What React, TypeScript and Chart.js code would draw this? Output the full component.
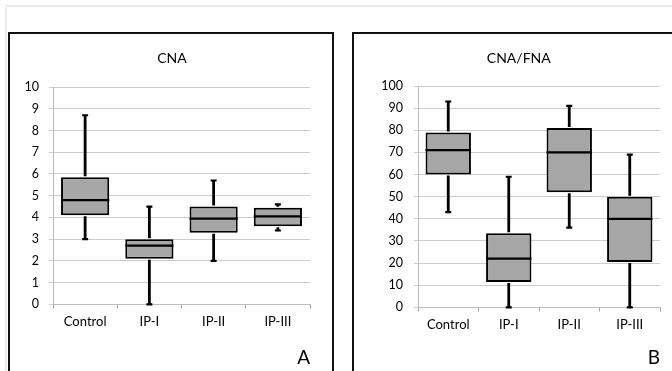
import React, { useEffect, useRef } from "react";
import { Chart, registerables } from "chart.js";

Chart.register(...registerables);

const categories = ["Control", "IP-I", "IP-II", "IP-III"];

// Panel A: CNA
const cnaMin = [3.0, 0.0, 2.0, 3.4];
const cnaQ1 = [4.1, 2.1, 3.3, 3.6];
const cnaMedian = [4.8, 2.7, 3.95, 4.05];
const cnaQ3 = [5.85, 3.0, 4.5, 4.45];
const cnaMax = [8.7, 4.5, 5.7, 4.6];

// Panel B: CNA/FNA
const ratioMin = [43, 0, 36, 0];
const ratioQ1 = [60, 11.5, 52, 20.5];
const ratioMedian = [71, 22, 70, 40];
const ratioQ3 = [79, 33.5, 81, 50];
const ratioMax = [93, 59, 91, 69];

const FONT = "Lato, 'Open Sans', sans-serif";

const boxPlugin = {
  id: "boxWhiskers",
  afterDatasetsDraw(chart: any, _args: any, opts: any) {
    const { ctx } = chart;
    const y = chart.scales.y;
    const meta = chart.getDatasetMeta(0);
    ctx.save();
    ctx.strokeStyle = "#000";
    meta.data.forEach((bar: any, i: number) => {
      const cx = bar.x;
      const half = bar.width / 2;
      const pMin = y.getPixelForValue(opts.min[i]);
      const pMax = y.getPixelForValue(opts.max[i]);
      const pQ1 = y.getPixelForValue(opts.q1[i]);
      const pQ3 = y.getPixelForValue(opts.q3[i]);
      const pMed = y.getPixelForValue(opts.median[i]);
      ctx.lineWidth = 2.8;
      ctx.beginPath();
      ctx.moveTo(cx, pQ1 + 1);
      ctx.lineTo(cx, pMin);
      ctx.moveTo(cx, pQ3 - 1);
      ctx.lineTo(cx, pMax);
      ctx.stroke();
      ctx.lineWidth = 2.2;
      ctx.beginPath();
      ctx.moveTo(cx - 3, pMin);
      ctx.lineTo(cx + 3, pMin);
      ctx.moveTo(cx - 3, pMax);
      ctx.lineTo(cx + 3, pMax);
      ctx.stroke();
      ctx.lineWidth = 2.2;
      ctx.beginPath();
      ctx.moveTo(cx - half, pMed);
      ctx.lineTo(cx + half, pMed);
      ctx.stroke();
    });
    ctx.restore();
  },
};

type PanelProps = {
  title: string;
  letter: string;
  min: number[];
  q1: number[];
  median: number[];
  q3: number[];
  max: number[];
  yMax: number;
  yStep: number;
  width: number;
  height: number;
  padLeft: number;
  padRight: number;
  yWidth: number;
  rightWidth: number;
  titlePadBottom: number;
  subPadTop: number;
  yTickPad: number;
  style: React.CSSProperties;
};

function BoxPanel(p: PanelProps) {
  const ref = useRef<HTMLCanvasElement | null>(null);
  useEffect(() => {
    if (!ref.current) return;
    const scales: any = {
      x: {
        type: "category",
        grid: {
          offset: true,
          drawOnChartArea: false,
          drawTicks: true,
          tickLength: 4,
          color: "#a0a0a0",
        },
        border: { color: "#bdbdbd", width: 1 },
        ticks: { color: "#000", font: { family: FONT, size: 13 }, padding: 6 },
        afterFit: (s: any) => {
          s.height = 30;
        },
      },
      y: {
        min: 0,
        max: p.yMax,
        ticks: {
          stepSize: p.yStep,
          color: "#000",
          font: { family: FONT, size: 12.5 },
          padding: p.yTickPad,
        },
        grid: { color: "#cccccc", tickLength: 4, lineWidth: 1 },
        border: { color: "#bdbdbd", width: 1 },
        afterFit: (s: any) => {
          s.width = p.yWidth;
        },
      },
    };
    if (p.rightWidth > 0) {
      scales.yRight = {
        type: "linear",
        position: "right",
        display: true,
        min: 0,
        max: p.yMax,
        grid: { display: false, drawTicks: false },
        border: { display: false },
        ticks: { display: false },
        afterFit: (s: any) => {
          s.width = p.rightWidth;
        },
      };
    }
    const chart = new Chart(ref.current, {
      type: "bar",
      data: {
        labels: categories,
        datasets: [
          {
            data: categories.map((_, i) => [p.q1[i], p.q3[i]]) as any,
            backgroundColor: "#a6a6a6",
            borderColor: "#000",
            borderWidth: 2,
            borderSkipped: false,
            barPercentage: 0.75,
            categoryPercentage: 1,
          },
        ],
      },
      options: {
        responsive: false,
        animation: false,
        layout: { padding: { left: p.padLeft, right: p.padRight, top: 0, bottom: 0 } },
        plugins: {
          legend: { display: false },
          tooltip: { enabled: false },
          title: {
            display: true,
            text: p.title,
            color: "#000",
            font: { family: FONT, size: 14, weight: "normal" },
            padding: { top: 14.6, bottom: p.titlePadBottom },
          },
          subtitle: {
            display: true,
            text: p.letter,
            position: "bottom",
            align: "end",
            fullSize: false,
            color: "#000",
            font: { family: FONT, size: 19, weight: "normal" },
            padding: { top: p.subPadTop, bottom: 1.4 },
          },
          boxWhiskers: { min: p.min, q1: p.q1, median: p.median, q3: p.q3, max: p.max },
        } as any,
        scales,
      },
      plugins: [boxPlugin],
    });
    return () => chart.destroy();
  }, []);
  return (
    <canvas
      ref={ref}
      width={p.width}
      height={p.height}
      style={{ position: "absolute", width: p.width, height: p.height, ...p.style }}
    />
  );
}

export default function App() {
  return (
    <div
      style={{
        position: "absolute",
        left: 0,
        top: 0,
        width: 672,
        height: 371,
        overflow: "hidden",
        background: "#fff",
      }}
    >
      <div
        style={{
          position: "absolute",
          left: 5,
          top: 5,
          width: 700,
          height: 400,
          borderTop: "2px solid #ebebeb",
          borderLeft: "2px solid #ebebeb",
        }}
      />
      <div
        style={{
          position: "absolute",
          left: 8,
          top: 32,
          width: 322,
          height: 400,
          border: "2px solid #111",
        }}
      />
      <div
        style={{
          position: "absolute",
          left: 352,
          top: 32,
          width: 400,
          height: 400,
          border: "2px solid #111",
        }}
      />
      <BoxPanel
        title="CNA"
        letter="A"
        min={cnaMin}
        q1={cnaQ1}
        median={cnaMedian}
        q3={cnaQ3}
        max={cnaMax}
        yMax={10}
        yStep={1}
        width={322}
        height={336}
        padLeft={12}
        padRight={10}
        yWidth={31}
        rightWidth={12}
        titlePadBottom={20.6}
        subPadTop={12.4}
        yTickPad={10}
        style={{ left: 10, top: 35 }}
      />
      <BoxPanel
        title="CNA/FNA"
        letter="B"
        min={ratioMin}
        q1={ratioQ1}
        median={ratioMedian}
        q3={ratioQ3}
        max={ratioMax}
        yMax={100}
        yStep={10}
        width={317}
        height={336}
        padLeft={22.5}
        padRight={12}
        yWidth={40.5}
        rightWidth={0}
        titlePadBottom={19.6}
        subPadTop={9.4}
        yTickPad={11}
        style={{ left: 355, top: 35 }}
      />
    </div>
  );
}
